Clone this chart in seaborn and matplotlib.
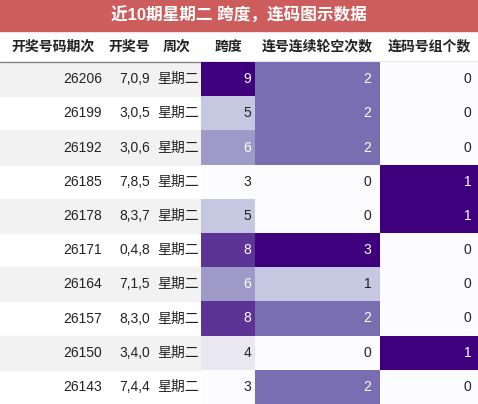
import matplotlib
matplotlib.use("Agg")
import matplotlib.pyplot as plt
import seaborn as sns
import numpy as np

sns.set_theme(style="white")
plt.rcParams['font.family'] = ['Liberation Sans', 'Noto Sans CJK SC', 'DejaVu Sans']

title = "近10期星期二 跨度，连码图示数据"
headers = ["开奖号码期次", "开奖号", "周次", "跨度", "连号连续轮空次数", "连码号组个数"]
periods = ["26206", "26199", "26192", "26185", "26178", "26171", "26164", "26157", "26150", "26143"]
numbers = ["7,0,9", "3,0,5", "3,0,6", "7,8,5", "8,3,7", "0,4,8", "7,1,5", "8,3,0", "3,4,0", "7,4,4"]
weekday = ["星期二"] * 10
span = [9, 5, 6, 3, 5, 8, 6, 8, 4, 3]
gap_count = [2, 2, 2, 0, 0, 3, 1, 2, 0, 2]
group_count = [0, 0, 0, 1, 1, 0, 0, 0, 1, 0]

W, H = 478, 404
fig = plt.figure(figsize=(W/100, H/100), dpi=100)
bg = fig.add_axes([0, 0, 1, 1])
bg.set_xlim(0, W); bg.set_ylim(H, 0); bg.axis("off")

title_h, head_h = 31, 31
row_h = (H - title_h - head_h) / 10
top = title_h + head_h
edges = [0, 106, 153, 201, 255, 380, 478]

bg.add_patch(plt.Rectangle((0, 0), W, title_h, color="#cd5c5c"))
bg.text(W/2, title_h/2, title, color="white", fontsize=12, fontweight="bold", ha="center", va="center")
bg.plot([0, W], [top, top], color="#888888", lw=1)
for i, h in enumerate(headers):
    bg.text((edges[i]+edges[i+1])/2, title_h + head_h/2, h, fontsize=10, fontweight="bold", ha="center", va="center", color="#222222")

for r in range(10):
    y = top + r*row_h
    if r % 2 == 0:
        bg.add_patch(plt.Rectangle((0, y), edges[3], row_h, color="#f2f2f2"))
    yc = y + row_h/2
    bg.text(edges[1]-4, yc, periods[r], ha="right", va="center", fontsize=10, color="#222222")
    bg.text(edges[2]-3, yc, numbers[r], ha="right", va="center", fontsize=10, color="#222222")
    bg.text(edges[3]-2, yc, weekday[r], ha="right", va="center", fontsize=10, color="#222222")

cols = [span, gap_count, group_count]
for k, vals in enumerate(cols):
    x0, x1 = edges[3+k], edges[4+k]
    ax = fig.add_axes([x0/W, 0, (x1-x0)/W, (H-top)/H])
    arr = np.array(vals).reshape(-1, 1)
    vmin, vmax = min(vals), max(vals)
    sns.heatmap(arr, ax=ax, cmap="Purples", vmin=vmin, vmax=vmax, cbar=False,
                xticklabels=False, yticklabels=False)
    for r, v in enumerate(vals):
        frac = (v - vmin) / (vmax - vmin)
        ax.text(0.93, r + 0.5, str(v), ha="right", va="center", fontsize=10,
                color="white" if frac > 0.45 else "#222222")

fig.savefig("out.png", dpi=100)
